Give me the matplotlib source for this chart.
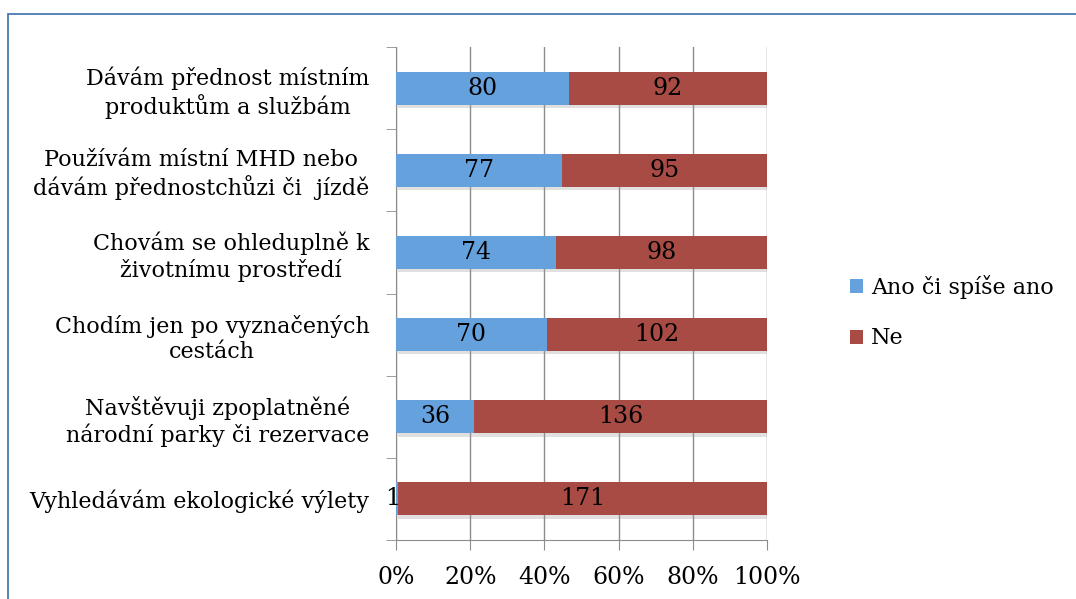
import numpy as np
import matplotlib
matplotlib.use("Agg")
import matplotlib.pyplot as plt
import matplotlib.patheffects as pe
from matplotlib.patches import Rectangle
from matplotlib.ticker import FixedLocator

# data (pocty odpovedi)
kategorie = [
    "Dávám přednost místním\nproduktům a službám",
    "Používám místní MHD nebo\ndávám přednostchůzi či  jízdě",
    "Chovám se ohleduplně k\nživotnímu prostředí",
    "Chodím jen po vyznačených\ncestách",
    "Navštěvuji zpoplatněné\nnárodní parky či rezervace",
    "Vyhledávám ekologické výlety",
]
ano = [80, 77, 74, 70, 36, 1]
ne = [92, 95, 98, 102, 136, 171]
serie = ["Ano či spíše ano", "Ne"]
x_ticks = ["0%", "20%", "40%", "60%", "80%", "100%"]

modra = "#64A1DD"
cervena = "#A84B45"
seda = "#8C8C8C"

plt.rcParams['font.family'] = ['DejaVu Serif']

W, H = 1076, 599
fig = plt.figure(figsize=(W / 100, H / 100), dpi=100)

# ramecek kolem grafu
fig.patches.append(Rectangle((8 / W, -0.1), 1.2, 1 - 14 / H + 0.1, transform=fig.transFigure,
                             fill=False, edgecolor="#3D6FA8", linewidth=1.2))

ax = fig.add_axes([396 / W, (H - 540) / H, (767 - 396) / W, (540 - 47) / H])

ano = np.array(ano, dtype=float)
ne = np.array(ne, dtype=float)
celkem = ano + ne
p_ano = ano / celkem * 100
p_ne = ne / celkem * 100
y = np.arange(len(kategorie))[::-1]

stin = [pe.SimplePatchShadow(offset=(1.5, -2.5), shadow_rgbFace="#999999", alpha=0.3), pe.Normal()]
b1 = ax.barh(y, p_ano, height=0.4, color=modra, label=serie[0], zorder=3)
b2 = ax.barh(y, p_ne, left=p_ano, height=0.4, color=cervena, label=serie[1], zorder=3)

for i in range(len(kategorie)):
    xa = p_ano[i] / 2
    if ano[i] < 5:
        xa = -0.8
    ax.text(xa, y[i], str(int(ano[i])), ha="center", va="center", fontsize=17, zorder=4)
    ax.text(p_ano[i] + p_ne[i] / 2, y[i], str(int(ne[i])), ha="center", va="center", fontsize=17, zorder=4)

ax.set_xlim(0, 100)
ax.set_ylim(-0.5, len(kategorie) - 0.5)
ax.set_xticks(np.arange(0, 101, 20))
ax.set_xticklabels(x_ticks, fontsize=17)
ax.set_yticks(y)
ax.set_yticklabels(kategorie, fontsize=16, multialignment="center")
ax.yaxis.set_minor_locator(FixedLocator(np.arange(-0.5, len(kategorie), 1)))
ax.tick_params(axis="y", which="major", length=0, pad=19)
ax.tick_params(axis="y", which="minor", length=7, color=seda)
ax.tick_params(axis="x", length=7, color=seda, pad=12)
ax.grid(axis="x", color=seda, linewidth=1, zorder=0)
for s in ["top", "right"]:
    ax.spines[s].set_visible(False)
for s in ["left", "bottom"]:
    ax.spines[s].set_color(seda)

ax.legend(loc="center left", bbox_to_anchor=(830 / W, (H - 312) / H), bbox_transform=fig.transFigure,
          frameon=False, fontsize=16, handlelength=0.6, handleheight=0.6, handletextpad=0.35, labelspacing=1.3)

# stin pod pruhy az po legende
for b in list(b1) + list(b2):
    b.set_path_effects(stin)

fig.savefig("out.png", dpi=100)
